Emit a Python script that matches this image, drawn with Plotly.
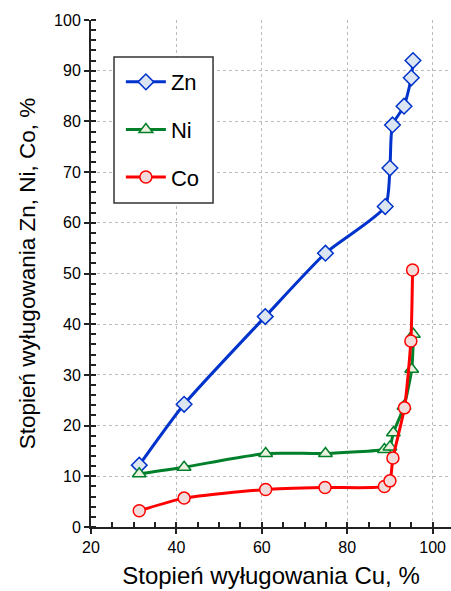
import plotly.graph_objects as go

cu_zn = [31.3, 41.8, 60.8, 74.9, 88.9, 90.0, 90.6, 93.3, 95.0, 95.4]
zn = [12.2, 24.2, 41.5, 54.0, 63.2, 70.8, 79.3, 83.0, 88.6, 92.0]

cu_ni = [31.3, 41.8, 60.9, 74.9, 88.7, 90.0, 90.8, 93.3, 95.1, 95.5]
ni = [10.5, 11.8, 14.5, 14.5, 15.3, 15.8, 18.6, 23.8, 31.1, 38.0]

cu_co = [31.3, 41.8, 60.9, 74.8, 88.7, 90.0, 90.7, 93.4, 94.9, 95.3]
co = [3.2, 5.7, 7.4, 7.8, 8.0, 9.1, 13.6, 23.5, 36.7, 50.7]

x_ticks = [20, 40, 60, 80, 100]
y_ticks = [0, 10, 20, 30, 40, 50, 60, 70, 80, 90, 100]

font = "Liberation Sans, Arial, sans-serif"

fig = go.Figure()
series = [
    ("Zn", cu_zn, zn, "#0033cc", "#dce6f2", "diamond", 12),
    ("Ni", cu_ni, ni, "#00802b", "#ebf1de", "triangle-up", 12),
    ("Co", cu_co, co, "#ff0000", "#f2dcdb", "circle", 12),
]
for name, x, y, lc, fc, sym, sz in series:
    fig.add_trace(go.Scatter(
        x=x, y=y, name=name, mode="lines+markers", legendgroup=name,
        line=dict(color=lc, width=3, shape="spline", smoothing=0.6),
        marker=dict(symbol=sym, size=sz, color=fc, line=dict(color=lc, width=1.5)),
    ))

# legend frame
fig.add_shape(type="rect", xref="paper", yref="paper",
              x0=0.0639, x1=0.339, y0=0.639, y1=0.927,
              line=dict(color="#333333", width=1.5), fillcolor="white", layer="above")

fig.update_layout(
    width=451, height=591,
    margin=dict(l=91, r=0, t=20, b=64),
    paper_bgcolor="white", plot_bgcolor="white",
    font=dict(family=font, color="black"),
    legend=dict(
        x=0.083, y=0.919, xanchor="left", yanchor="top",
        borderwidth=0, bgcolor="rgba(0,0,0,0)",
        font=dict(size=22, family=font), traceorder="grouped",
        tracegroupgap=16, itemwidth=40,
    ),
    xaxis=dict(
        range=[20, 104.3], tickvals=x_ticks, showline=True, linecolor="#222222", linewidth=2,
        ticks="outside", ticklen=5, tickcolor="#222222", tickwidth=1.5,
        minor=dict(tickvals=list(range(25, 105, 5)), ticks="inside", ticklen=5,
                   tickcolor="#222222", showgrid=False),
        showgrid=True, gridcolor="#bbbbbb", griddash="dot", gridwidth=1,
        tickfont=dict(size=16), zeroline=False,
        title=dict(text="Stopień wyługowania Cu, %", font=dict(size=24), standoff=12),
    ),
    yaxis=dict(
        range=[0, 100], tickvals=y_ticks, showline=True, linecolor="#222222", linewidth=2,
        ticks="outside", ticklen=5, tickcolor="#222222", tickwidth=1.5,
        minor=dict(dtick=2, ticks="inside", ticklen=5, tickcolor="#222222", showgrid=False),
        showgrid=True, gridcolor="#bbbbbb", griddash="dot", gridwidth=1,
        tickfont=dict(size=16), zeroline=False,
        title=dict(text="Stopień wyługowania Zn, Ni, Co, %", font=dict(size=22.5), standoff=12),
    ),
)

fig.write_html("out.html")
